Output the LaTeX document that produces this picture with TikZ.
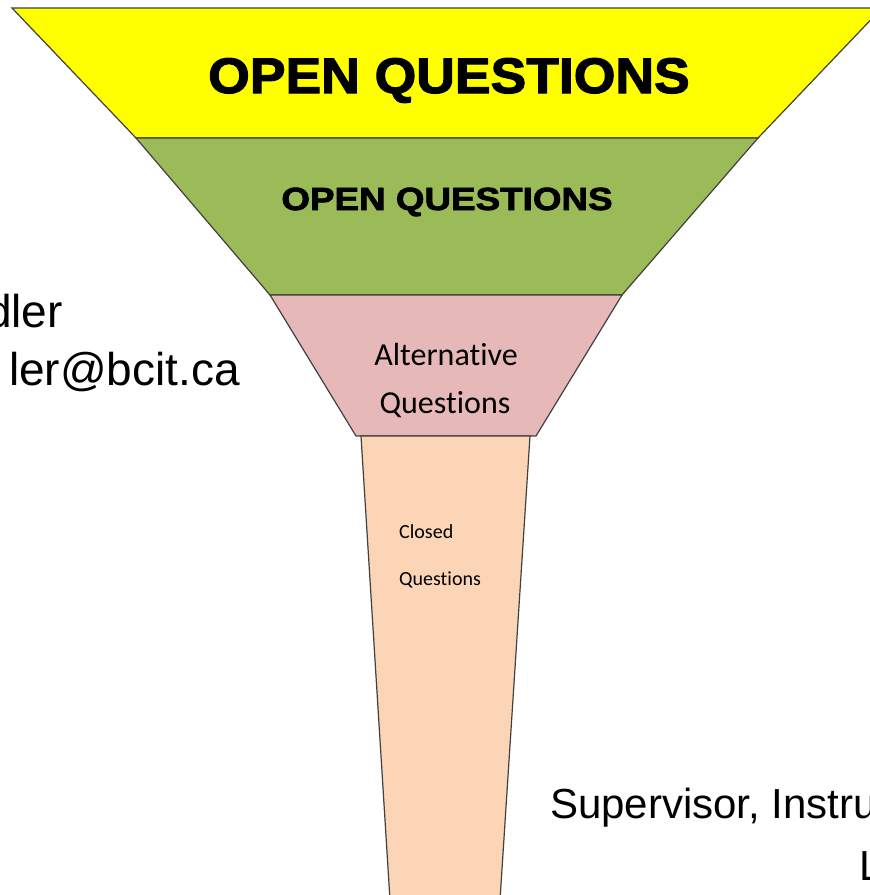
\documentclass[tikz,border=0pt]{standalone}
\usepackage{graphicx}
\usepackage{fontspec}
\setmainfont{Liberation Sans}
\newfontfamily\calib{Carlito}[Ligatures=NoCommon]
\newfontfamily\heavy{Liberation Sans}[BoldFeatures={FakeBold=2.2}]
\definecolor{yellowc}{HTML}{FFFF00}
\definecolor{greenc}{HTML}{9BBB59}
\definecolor{pinkc}{HTML}{E6B9B8}
\definecolor{peachc}{HTML}{FBD5B5}
\begin{document}
\begin{tikzpicture}[x=1pt,y=-1pt,
  seg/.style={draw=black!75,line width=1.2pt,line join=miter},
  bigtitle/.style={inner sep=0pt,anchor=base,font=\heavy\bfseries\fontsize{50}{58}\selectfont},
  midtitle/.style={inner sep=0pt,anchor=base,font=\heavy\bfseries\fontsize{32}{40}\selectfont},
  alttext/.style={inner sep=0pt,anchor=base,font=\calib\fontsize{32}{40}\selectfont},
  smalltext/.style={inner sep=0pt,anchor=base west,font=\calib\fontsize{20}{24}\selectfont},
  sidetext/.style={inner sep=0pt,font=\fontsize{46}{56}\selectfont},
  foottext/.style={inner sep=0pt,anchor=base west,font=\fontsize{42}{50}\selectfont}]
\useasboundingbox (0,0) rectangle (870,895);
\clip (0,0) rectangle (870,895);
\fill[white] (0,0) rectangle (870,895);
% funnel segments
\filldraw[seg,fill=yellowc] (12,8) -- (882,8) -- (758,138) -- (136,138) -- cycle;
\filldraw[seg,fill=greenc] (136,138) -- (758,138) -- (622,295) -- (270,295) -- cycle;
\filldraw[seg,fill=pinkc] (270,295) -- (622,295) -- (536,436) -- (356,436) -- cycle;
\filldraw[seg,fill=peachc] (361,436) -- (530,436) -- (500,900) -- (390,900) -- cycle;
% labels
\node[bigtitle] (t1) at (449,93) {\scalebox{1.07}[1]{OPEN QUESTIONS}};
\node[midtitle] (t2) at (447,210) {\scalebox{1.15}[1]{OPEN QUESTIONS}};
\node[alttext] (a1) at (446,365) {Alternative};
\node[alttext] (a2) at (445,413) {Questions};
\node[smalltext] (c1) at (399,538) {Closed};
\node[smalltext] (c2) at (399,585) {Questions};
% side texts
\node[sidetext,anchor=base east] (s1) at (63,327) {dler};
\node[sidetext,anchor=base east] (s2) at (240,385) {ler@bcit.ca};
\node[foottext] (f1) at (550,818) {Supervisor, Instru};
\node[foottext] (f2) at (859,880) {L};
\end{tikzpicture}
\end{document}
